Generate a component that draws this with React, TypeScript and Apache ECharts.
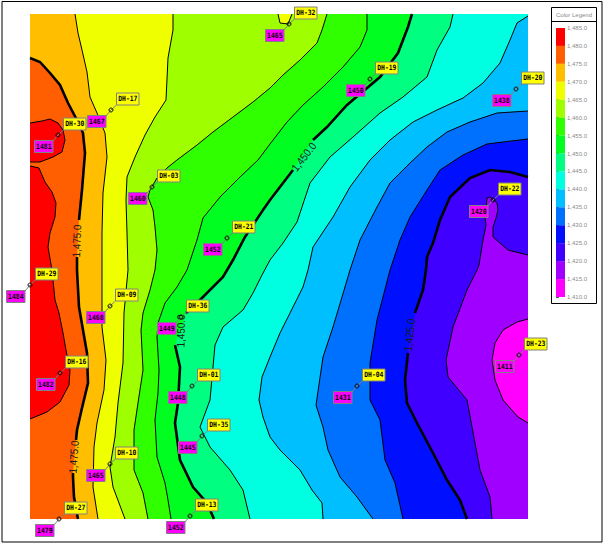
import React, { useEffect, useRef } from "react";
import * as echarts from "echarts";

type P = number[];

const c1480a: P[] = [[30,123],[42,121],[50,119],[58,123],[63,130],[65,140],[62,152],[53,157],[40,162],[30,162]];
const c1480b: P[] = [[30,166],[39,168],[45,182],[52,192],[56,203],[55,217],[50,233],[48,247],[52,270],[55,300],[59,313],[63,333],[66,350],[70,370],[69,385],[60,402],[47,412],[30,419]];
const c1475a: P[] = [[30,58],[40,62],[50,73],[60,85],[68,103],[78,122],[83,133],[85,153],[82,190],[79,220]];
const c1475b: P[] = [[77,257],[77,270],[79,307],[83,330],[87,353],[88,383],[82,408],[77,430],[76,440]];
const c1475c: P[] = [[73,473],[73,477],[74,497],[78,519]];
const c1470: P[] = [[75,14],[78,33],[82,50],[87,72],[90,97],[97,113],[105,133],[107,157],[103,193],[102,233],[102,270],[102,327],[106,360],[104,390],[97,423],[94,447],[93,487],[98,519]];
const c1465: P[] = [[173,14],[173,30],[168,58],[166,100],[155,117],[145,135],[135,157],[127,177],[126,200],[127,233],[128,270],[124,313],[123,363],[118,403],[115,437],[110,467],[113,487],[125,519]];
const c1465top: P[] = [[278,14],[280,23],[288,24],[292,14]];
const c1460: P[] = [[327,14],[322,30],[317,43],[300,60],[283,75],[270,88],[253,102],[233,117],[213,132],[197,145],[177,160],[167,168],[157,178],[150,190],[148,197],[153,210],[155,227],[157,250],[155,270],[150,290],[143,313],[141,330],[143,370],[138,403],[134,430],[134,470],[143,493],[148,519]];
const c1455: P[] = [[367,14],[367,30],[360,47],[343,67],[323,87],[303,105],[287,122],[270,144],[258,160],[240,177],[220,197],[203,218],[197,240],[187,270],[177,287],[165,303],[158,323],[157,337],[159,370],[158,393],[155,420],[157,457],[165,483],[168,500],[171,519]];
const c1450a: P[] = [[412,14],[408,27],[398,53],[380,77],[347,105],[327,127],[313,140]];
const c1450b: P[] = [[293,170],[270,200],[263,210],[245,237],[233,260],[223,277],[200,300],[193,307],[186,313]];
const c1450c: P[] = [[175,345],[180,367],[178,403],[175,423],[180,460],[193,487],[207,503],[214,519]];
const c1445: P[] = [[453,14],[450,27],[437,50],[427,77],[403,97],[380,113],[353,137],[330,157],[310,183],[297,222],[283,243],[270,260],[262,275],[253,293],[243,310],[223,327],[215,345],[213,367],[210,400],[200,427],[210,447],[230,470],[243,490],[250,519]];
const c1440: P[] = [[528,16],[517,23],[510,40],[500,63],[483,83],[463,98],[437,110],[413,122],[390,140],[370,160],[350,187],[333,217],[313,247],[308,270],[303,287],[290,313],[280,333],[270,357],[262,377],[259,400],[263,417],[270,437],[280,450],[300,470],[312,490],[322,503],[323,519]];
const c1435: P[] = [[528,111],[497,113],[470,122],[447,132],[427,147],[410,163],[390,183],[377,207],[360,240],[350,270],[342,297],[333,327],[323,357],[316,405],[323,427],[328,450],[340,477],[357,497],[373,519]];
const c1430: P[] = [[528,139],[503,142],[487,144],[463,155],[440,170],[427,190],[410,217],[400,240],[390,270],[377,320],[370,363],[370,400],[380,420],[385,460],[395,483],[403,519]];
const c1425a: P[] = [[528,177],[510,172],[490,170],[470,178],[450,197],[440,220],[433,243],[427,257],[426,270],[423,290],[415,313]];
const c1425b: P[] = [[408,353],[405,380],[407,403],[417,423],[433,453],[447,480],[460,500],[467,519]];
const c1420: P[] = [[528,255],[508,250],[500,243],[493,237],[493,227],[496,218],[498,210],[497,203],[490,197],[487,198],[485,217],[486,225],[483,240],[479,265],[477,270],[467,290],[453,327],[446,360],[448,377],[467,400],[472,427],[480,470],[490,497],[492,519]];
const c1415: P[] = [[528,319],[517,322],[503,330],[495,343],[492,360],[495,380],[503,400],[518,417],[528,423]];

// Legend bands: lower bound of each band, top band first.
const bandFloors = [1480, 1475, 1470, 1465, 1460, 1455, 1450, 1445, 1440, 1435, 1430, 1425, 1420, 1415, 1410];
const bandColors = ["#ff0000", "#ff5f00", "#ffbf00", "#efff00", "#9fff00", "#30ff00", "#00ff20", "#00ff80", "#00ffe0", "#00bfff", "#0070ff", "#0010ff", "#4000ff", "#a000ff", "#ff00ff"];

// Drill holes.
const holeNames = ["DH-17","DH-30","DH-03","DH-21","DH-32","DH-19","DH-20","DH-22","DH-29","DH-09","DH-36","DH-16","DH-01","DH-35","DH-10","DH-13","DH-27","DH-04","DH-23"];
const holeEast = [111,58,152,227,289,370,516,493,30,110,181,60,192,202,110,190,59,357,519];
const holeSouth = [110,135,187,238,24,79,89,200,285,306,317,373,386,436,464,516,519,386,355];
const holeValues = [1467,1481,1460,1452,1465,1450,1438,1420,1484,1468,1449,1482,1448,1445,1465,1452,1479,1431,1411];

// Contour annotations.
const noteTexts = ["1,475.0","1,475.0","1,450.0","1,450.0","1,425.0"];
const noteEast = [77,74,304,181,410];
const noteSouth = [241,457,157,331,335];
const noteAngles = [88,86,52,89,84];

const X0 = 30, X1 = 528, Y0 = 14, Y1 = 519;
const TL = [X0, Y0], TR = [X1, Y0], BR = [X1, Y1], BL = [X0, Y1];
const c1475 = [...c1475a, ...c1475b, ...c1475c];
const c1450 = [...c1450a, ...c1450b, ...c1450c];
const c1425 = [...c1425a, ...c1425b];

const fills: { pts: P[]; color: string }[] = [
  { pts: [TL, TR, BR, BL], color: bandColors[1] },
  { pts: c1480a, color: bandColors[0] },
  { pts: c1480b, color: bandColors[0] },
  { pts: [...c1475, BR, TR, TL], color: bandColors[2] },
  { pts: [...c1470, BR, TR], color: bandColors[3] },
  { pts: [...c1465, BR, TR], color: bandColors[4] },
  { pts: c1465top, color: bandColors[3] },
  { pts: [...c1460, BR, TR], color: bandColors[5] },
  { pts: [...c1455, BR, TR], color: bandColors[6] },
  { pts: [...c1450, BR, TR], color: bandColors[7] },
  { pts: [...c1445, BR, TR], color: bandColors[8] },
  { pts: [...c1440, BR], color: bandColors[9] },
  { pts: [...c1435, BR], color: bandColors[10] },
  { pts: [...c1430, BR], color: bandColors[11] },
  { pts: [...c1425, BR], color: bandColors[12] },
  { pts: [...c1420, BR], color: bandColors[13] },
  { pts: c1415, color: bandColors[14] },
];
const thinLines = [c1480a, c1480b, c1470, c1465, c1465top, c1460, c1455, c1445, c1440, c1435, c1430, c1420, c1415];
const thickLines = [c1475a, c1475b, c1475c, c1450a, c1450b, c1450c, c1425a, c1425b];

const BOX = "#808080";
const hidden = { show: false };

export default function App() {
  const ref = useRef<HTMLDivElement>(null);
  useEffect(() => {
    document.body.style.margin = "0";
    document.body.style.background = "#ffffff";
    const chart = echarts.init(ref.current!, undefined, { renderer: "svg" });
    const mapAxes = { xAxisIndex: 0, yAxisIndex: 0, coordinateSystem: "cartesian2d", silent: true, clip: false };
    const boxFont = "bold 6.4px 'DejaVu Sans Mono'";
    chart.setOption({
      animation: false,
      backgroundColor: "#ffffff",
      grid: [
        { left: X0, top: Y0, width: X1 - X0, height: Y1 - Y0 },
        { left: 556, top: 28, width: 9, height: 269 },
      ],
      xAxis: [
        { type: "value", min: X0, max: X1, ...hidden, gridIndex: 0 },
        { type: "value", min: 0, max: 1, ...hidden, gridIndex: 1 },
      ],
      yAxis: [
        { type: "value", min: Y0, max: Y1, inverse: true, ...hidden, gridIndex: 0 },
        {
          type: "value", gridIndex: 1, min: 1410, max: 1485, interval: 5, position: "right",
          axisLine: { show: false },
          splitLine: { show: false },
          axisTick: { show: true, length: 3, inside: false, lineStyle: { color: "#555555", width: 1 } },
          axisLabel: {
            show: true, margin: 2, fontSize: 6, color: "#8a8a8a", fontFamily: "Liberation Sans",
            formatter: (v: number) => v.toLocaleString("en-US", { minimumFractionDigits: 1, maximumFractionDigits: 1 }),
          },
        },
      ],
      graphic: [
        { type: "rect", z: 100, silent: true, shape: { x: 2, y: 1.5, width: 600, height: 540.5 }, style: { fill: "none", stroke: "#000000", lineWidth: 1 } },
        { type: "rect", z: 100, silent: true, shape: { x: 551.5, y: 7.5, width: 45, height: 296 }, style: { fill: "none", stroke: "#000000", lineWidth: 1 } },
        { type: "line", z: 100, silent: true, shape: { x1: 551.5, y1: 21.5, x2: 596.5, y2: 21.5 }, style: { stroke: "#000000", lineWidth: 1 } },
        { type: "text", z: 100, silent: true, style: { x: 574, y: 14.5, text: "Color Legend", align: "center", verticalAlign: "middle", font: "6px 'Liberation Sans'", fill: "#8a8a8a" } },
      ],
      series: [
        {
          type: "custom", ...mapAxes, z: 1, data: fills.map((_, i) => [i]),
          renderItem: (p: any, api: any) => ({
            type: "polygon",
            shape: { points: fills[p.dataIndex].pts.map((q) => api.coord(q)) },
            style: { fill: fills[p.dataIndex].color, stroke: "none" },
          }),
        },
        {
          type: "custom", ...mapAxes, z: 2, data: thinLines.map((_, i) => [i]),
          renderItem: (p: any, api: any) => ({
            type: "polyline",
            shape: { points: thinLines[p.dataIndex].map((q) => api.coord(q)) },
            style: { fill: "none", stroke: "#000000", lineWidth: 1 },
          }),
        },
        {
          type: "custom", ...mapAxes, z: 3, data: thickLines.map((_, i) => [i]),
          renderItem: (p: any, api: any) => ({
            type: "polyline",
            shape: { points: thickLines[p.dataIndex].map((q) => api.coord(q)) },
            style: { fill: "none", stroke: "#000000", lineWidth: 2.6 },
          }),
        },
        {
          type: "custom", ...mapAxes, z: 4, data: noteTexts.map((_, i) => [noteEast[i], noteSouth[i]]),
          renderItem: (p: any, api: any) => {
            const c = api.coord([api.value(0), api.value(1)]);
            return {
              type: "text", x: c[0], y: c[1], rotation: (noteAngles[p.dataIndex] * Math.PI) / 180, scaleX: 0.9,
              style: { text: noteTexts[p.dataIndex], x: 0, y: 0, align: "center", verticalAlign: "middle", font: "11px 'Liberation Sans'", fill: "#1a1a1a" },
            };
          },
        },
        {
          type: "custom", ...mapAxes, z: 5, data: holeNames.map((_, i) => [holeEast[i], holeSouth[i]]),
          renderItem: (p: any, api: any) => {
            const c = api.coord([api.value(0), api.value(1)]);
            const i = p.dataIndex;
            const cx = c[0], cy = c[1];
            return {
              type: "group",
              children: [
                { type: "line", shape: { x1: cx, y1: cy, x2: cx + 5.5, y2: cy - 5 }, style: { stroke: BOX, lineWidth: 1 } },
                { type: "line", shape: { x1: cx, y1: cy, x2: cx - 5, y2: cy + 6 }, style: { stroke: BOX, lineWidth: 1 } },
                { type: "circle", shape: { cx, cy, r: 2 }, style: { fill: "none", stroke: "#000000", lineWidth: 0.9 } },
                { type: "rect", shape: { x: cx + 5.5, y: cy - 17, width: 22.5, height: 12 }, style: { fill: "#ffff00", stroke: BOX, lineWidth: 1 } },
                { type: "text", x: cx + 16.8, y: cy - 10.8, scaleY: 1.15, style: { text: holeNames[i], x: 0, y: 0, align: "center", verticalAlign: "middle", font: boxFont, fill: "#000000" } },
                { type: "rect", shape: { x: cx - 23.5, y: cy + 5.5, width: 18.5, height: 12 }, style: { fill: "#ff00ff", stroke: BOX, lineWidth: 1 } },
                { type: "text", x: cx - 14.2, y: cy + 11.7, scaleY: 1.15, style: { text: String(holeValues[i]), x: 0, y: 0, align: "center", verticalAlign: "middle", font: boxFont, fill: "#000000" } },
              ],
            };
          },
        },
        {
          type: "custom", xAxisIndex: 1, yAxisIndex: 1, coordinateSystem: "cartesian2d", silent: true, z: 1,
          data: bandFloors.map((f) => [f]),
          renderItem: (p: any, api: any) => {
            const f = bandFloors[p.dataIndex];
            const a = api.coord([0, f + 5]);
            const b = api.coord([1, f]);
            return { type: "rect", shape: { x: a[0], y: a[1], width: b[0] - a[0], height: b[1] - a[1] }, style: { fill: bandColors[p.dataIndex], stroke: "none" } };
          },
          encode: { x: 0, y: 0 },
        },
      ],
    });
    return () => chart.dispose();
  }, []);
  return <div ref={ref} style={{ width: 604, height: 543 }} />;
}
